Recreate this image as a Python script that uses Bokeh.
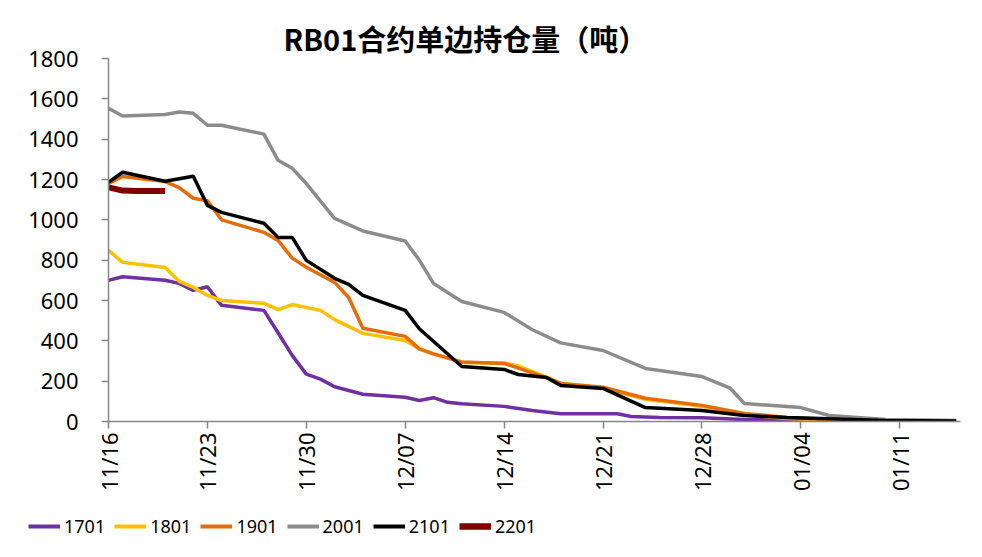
from bokeh.plotting import figure
from bokeh.models import ColumnDataSource, FixedTicker, Range1d, Legend, LegendItem
from bokeh.layouts import column
from bokeh.embed import file_html
from bokeh.resources import INLINE
import math

# ---- data (day offset from 11/16, value in tonnes) ----
tick_days = [0, 7, 14, 21, 28, 35, 42, 49, 56]
tick_labels = ["11/16", "11/23", "11/30", "12/07", "12/14", "12/21", "12/28", "01/04", "01/11"]
y_ticks = [0, 200, 400, 600, 800, 1000, 1200, 1400, 1600, 1800]

s1701_days = [0, 1, 4, 5, 6, 7, 8, 11, 12, 13, 14, 15, 16, 18, 21, 22, 23, 24, 25, 28, 30, 32, 36, 37, 39, 42, 45, 50, 56]
s1701_vals = [700, 718, 700, 685, 650, 668, 576, 551, 440, 328, 235, 210, 172, 135, 120, 104, 118, 95, 88, 75, 55, 38, 38, 25, 20, 18, 10, 5, 2]

s1801_days = [0, 1, 4, 5, 6, 7, 8, 11, 12, 13, 15, 16, 18, 21, 22, 23, 25, 28, 29, 31, 32, 35, 38, 42, 45, 48, 52]
s1801_vals = [849, 789, 764, 695, 665, 625, 600, 586, 555, 580, 551, 505, 437, 402, 360, 335, 293, 290, 275, 220, 189, 165, 110, 75, 35, 15, 5]

s1901_days = [0, 1, 4, 5, 6, 7, 8, 11, 12, 13, 14, 16, 17, 18, 21, 22, 23, 25, 28, 29, 31, 32, 35, 38, 42, 45, 48, 53]
s1901_vals = [1180, 1215, 1190, 1160, 1107, 1095, 1000, 938, 898, 810, 765, 690, 615, 462, 422, 360, 335, 295, 288, 265, 218, 189, 170, 115, 80, 40, 20, 5]

s2001_days = [0, 1, 4, 5, 6, 7, 8, 11, 12, 13, 14, 16, 18, 21, 22, 23, 24, 25, 28, 30, 32, 35, 38, 42, 44, 45, 49, 51, 55, 60]
s2001_vals = [1553, 1515, 1522, 1535, 1528, 1469, 1469, 1425, 1295, 1256, 1180, 1007, 945, 895, 800, 685, 640, 595, 541, 455, 390, 352, 263, 223, 165, 89, 69, 30, 10, 5]

s2101_days = [0, 1, 4, 6, 7, 8, 11, 12, 13, 14, 16, 17, 18, 21, 22, 25, 28, 29, 31, 32, 35, 38, 42, 45, 48, 55, 60]
s2101_vals = [1186, 1236, 1191, 1216, 1072, 1037, 983, 913, 913, 799, 710, 680, 625, 551, 460, 273, 258, 233, 218, 179, 164, 69, 55, 30, 20, 5, 3]

s2201_days = [0, 1, 2, 3, 4]
s2201_vals = [1161, 1145, 1143, 1143, 1143]

series = [
    ("1701", s1701_days, s1701_vals, "#7030A0", 3.5),
    ("1801", s1801_days, s1801_vals, "#FFC000", 3.5),
    ("1901", s1901_days, s1901_vals, "#E46C0A", 3.5),
    ("2001", s2001_days, s2001_vals, "#8C8C8C", 3.5),
    ("2101", s2101_days, s2101_vals, "#000000", 3.5),
    ("2201", s2201_days, s2201_vals, "#800000", 6),
]

p = figure(width=980, height=500, output_backend="svg", toolbar_location=None,
           x_range=Range1d(0, 60.3), y_range=Range1d(0, 1800),
           min_border_left=108, min_border_right=20, min_border_top=58, min_border_bottom=79)
p.frame_align = False

p.title.text = "RB01合约单边持仓量（吨）"
p.title.text_font = "Noto Sans CJK SC"
p.title.text_font_size = "29px"
p.title.text_font_style = "bold"
p.title.text_color = "#000000"
p.title.align = "left"
p.title.offset = 175
p.title.standoff = 0

p.outline_line_color = None
p.xgrid.grid_line_color = None
p.ygrid.grid_line_color = None

for name, d, v, col, w in series:
    src = ColumnDataSource(dict(x=d, y=v))
    p.line("x", "y", source=src, line_color=col, line_width=w)

for ax in (p.xaxis[0], p.yaxis[0]):
    ax.axis_line_color = "#868686"
    ax.axis_line_width = 1.5
    ax.major_tick_line_color = "#868686"
    ax.major_tick_line_width = 1.5
    ax.minor_tick_line_color = None
    ax.major_tick_in = 0
    ax.major_tick_out = 7
    ax.major_label_text_font = "Noto Sans"
    ax.major_label_text_font_size = "22px"
    ax.major_label_text_color = "#000000"

p.yaxis.ticker = FixedTicker(ticks=y_ticks)
p.yaxis.major_label_standoff = 23
p.xaxis.ticker = FixedTicker(ticks=tick_days)
p.xaxis.major_label_overrides = {d: l for d, l in zip(tick_days, tick_labels)}
p.xaxis.major_label_orientation = math.pi / 2
p.xaxis.major_label_standoff = 4

# legend strip below the chart (its own frame spans the full width)
lg = figure(width=980, height=55, output_backend="svg", toolbar_location=None,
            x_range=Range1d(0, 1), y_range=Range1d(0, 1),
            x_axis_location=None, y_axis_location=None,
            min_border_left=0, min_border_right=0, min_border_top=0, min_border_bottom=0)
lg.frame_align = False
lg.outline_line_color = None
lg.xgrid.grid_line_color = None
lg.ygrid.grid_line_color = None
items = []
for name, d, v, col, w in series:
    # proxy renderer lying outside the visible range, only used for the legend key
    r = lg.line(x=[5, 6], y=[5, 5], line_color=col, line_width=w + 0.5)
    items.append(LegendItem(label=name, renderers=[r]))

legend = Legend(items=items, orientation="horizontal", location=(28, 17),
                padding=0, margin=0, spacing=9, label_standoff=4,
                glyph_width=32, glyph_height=20,
                label_text_font="Noto Sans", label_text_font_size="18px",
                label_text_color="#000000",
                border_line_color=None, background_fill_alpha=0)
lg.add_layout(legend, "center")

open("out.html", "w").write(file_html(column(p, lg, spacing=0), INLINE))
